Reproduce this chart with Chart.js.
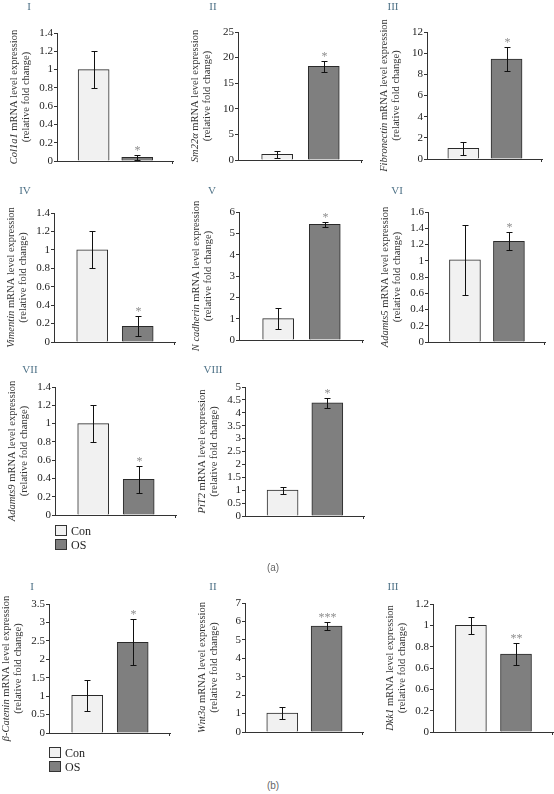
<!DOCTYPE html>
<html>
<head>
<meta charset="utf-8">
<script src="https://cdn.jsdelivr.net/npm/chart.js@4.4.1/dist/chart.umd.min.js"></script>
<style>
  body { margin: 0; background: #fff; }
  #page { position: relative; width: 554px; height: 794px; overflow: hidden; font-family: "Liberation Serif", "DejaVu Serif", serif; }
  .panel { position: absolute; }
  .num { position: absolute; color: #4f7287; font-size: 11px; transform: translate(-50%, -50%); }
  .fig { position: absolute; color: #666; font-family: "Liberation Sans", Arial, sans-serif; font-size: 10px; transform: translate(-50%, -50%); }
  .leg { position: absolute; font-size: 12px; color: #222; }
  .leg span.sw { display: inline-block; width: 10px; height: 9px; border: 1px solid #333; vertical-align: -1px; margin-right: 4px; }
  .leg div { height: 14px; line-height: 14px; }
</style>
</head>
<body>
<div id="page"></div>
<script>
// values
const groups = ['Con', 'OS'];
const genes = ['Col1a1', 'Sm22α', 'Fibronectin', 'Vimentin', 'N cadherin', 'Adamts5', 'Adamts9', 'PiT2', 'β-Catenin', 'Wnt3a', 'Dkk1'];
const numerals = ['I', 'II', 'III', 'IV', 'V', 'VI', 'VII', 'VIII', 'I', 'II', 'III'];
const conMean = [1.0, 1.1, 1.0, 1.0, 1.0, 1.01, 1.0, 1.0, 1.02, 1.03, 1.0];
const conErr = [0.2, 0.65, 0.65, 0.2, 0.5, 0.43, 0.2, 0.14, 0.43, 0.3, 0.08];
const osMean = [0.04, 18.3, 9.45, 0.17, 5.42, 1.24, 0.39, 4.39, 2.46, 5.75, 0.73];
const osErr = [0.03, 1.1, 1.15, 0.11, 0.13, 0.11, 0.15, 0.19, 0.62, 0.22, 0.1];
const marks = ['*', '*', '*', '*', '*', '*', '*', '*', '*', '***', '**'];
const yTicks = [
  ['0', '0.2', '0.4', '0.6', '0.8', '1', '1.2', '1.4'],
  ['0', '5', '10', '15', '20', '25'],
  ['0', '2', '4', '6', '8', '10', '12'],
  ['0', '0.2', '0.4', '0.6', '0.8', '1', '1.2', '1.4'],
  ['0', '1', '2', '3', '4', '5', '6'],
  ['0', '0.2', '0.4', '0.6', '0.8', '1', '1.2', '1.4', '1.6'],
  ['0', '0.2', '0.4', '0.6', '0.8', '1', '1.2', '1.4'],
  ['0', '0.5', '1', '1.5', '2', '2.5', '3', '3.5', '4', '4.5', '5'],
  ['0', '0.5', '1', '1.5', '2', '2.5', '3', '3.5'],
  ['0', '1', '2', '3', '4', '5', '6', '7'],
  ['0', '0.2', '0.6', '0.6', '0.8', '1', '1.2']
];
const yMax = [1.4, 25, 12, 1.4, 6, 1.6, 1.4, 5, 3.5, 7, 1.2];

// where each panel's axes sit on the page: y axis x, x axis end, top tick y, zero y
const layout = [
  { a: 57, e: 173, top: 33, zero: 161 },
  { a: 238, e: 362, top: 32, zero: 160 },
  { a: 427, e: 542, top: 32, zero: 159 },
  { a: 54, e: 175, top: 213, zero: 342 },
  { a: 239, e: 363, top: 212, zero: 340 },
  { a: 428, e: 545, top: 212, zero: 342 },
  { a: 55, e: 176, top: 387, zero: 515 },
  { a: 245, e: 364, top: 387, zero: 516 },
  { a: 49, e: 170, top: 604, zero: 733 },
  { a: 245, e: 363, top: 603, zero: 732 },
  { a: 433, e: 553, top: 604, zero: 732 }
];
const numPos = [[29, 6], [213, 6], [393, 6], [25, 190], [212, 190], [397, 190], [30, 369], [213, 369], [32, 586], [213, 586], [393, 586]];

const AXW = 50, PADT = 26, PADB = 26, PADR = 4;
const FONT = '"Liberation Serif", "DejaVu Serif", serif';
const conColor = '#f1f1f1', osColor = '#7f7f7f';
const page = document.getElementById('page');

const decor = {
  id: 'decor',
  afterDatasetsDraw(chart) {
    const i = chart.options.plugins.decor.panel;
    const ctx = chart.ctx;
    const ys = chart.scales.y;
    const ca = chart.chartArea;
    const meta = chart.getDatasetMeta(0);
    const means = [conMean[i], osMean[i]];
    const errs = [conErr[i], osErr[i]];
    ctx.save();
    ctx.strokeStyle = '#111';
    ctx.lineWidth = 1;
    meta.data.forEach((bar, k) => {
      const x = Math.round(bar.x) + 0.5;
      const yt = Math.round(ys.getPixelForValue(means[k] + errs[k])) + 0.5;
      const yb = Math.round(ys.getPixelForValue(Math.max(means[k] - errs[k], 0))) + 0.5;
      ctx.beginPath();
      ctx.moveTo(x, yt); ctx.lineTo(x, yb);
      ctx.moveTo(x - 3, yt); ctx.lineTo(x + 3, yt);
      ctx.moveTo(x - 3, yb); ctx.lineTo(x + 3, yb);
      ctx.stroke();
      if (k === 1) {
        ctx.fillStyle = '#8c8c8c';
        ctx.font = '12px ' + FONT;
        ctx.textAlign = 'center';
        ctx.textBaseline = 'alphabetic';
        ctx.fillText(marks[i], x, yt - 2);
      }
    });
    // small tick at the end of the x axis
    ctx.strokeStyle = '#333';
    ctx.beginPath();
    ctx.moveTo(Math.round(ca.right) - 0.5, ca.bottom);
    ctx.lineTo(Math.round(ca.right) - 0.5, ca.bottom + 3);
    ctx.stroke();

    // rotated y title, gene name in italics
    ctx.fillStyle = '#333';
    ctx.textBaseline = 'middle';
    ctx.textAlign = 'left';
    ctx.translate(ca.left - 43, (ca.top + ca.bottom) / 2);
    ctx.rotate(-Math.PI / 2);
    const it = 'italic 10.5px ' + FONT, rg = '10.5px ' + FONT;
    const rest = ' mRNA level expression';
    ctx.font = it;
    const w1 = ctx.measureText(genes[i]).width;
    ctx.font = rg;
    const w2 = ctx.measureText(rest).width;
    const x0 = -(w1 + w2) / 2;
    ctx.font = it;
    ctx.fillText(genes[i], x0, 0);
    ctx.font = rg;
    ctx.fillText(rest, x0 + w1, 0);
    ctx.textAlign = 'center';
    ctx.fillText('(relative fold change)', 0, 12);
    ctx.restore();
  }
};

function makePanel(i) {
  const p = layout[i];
  const w = p.e - p.a + AXW + PADR;
  const h = p.zero - p.top + PADT + PADB;
  const div = document.createElement('div');
  div.className = 'panel';
  div.style.left = (p.a - AXW) + 'px';
  div.style.top = (p.top - PADT) + 'px';
  div.style.width = w + 'px';
  div.style.height = h + 'px';
  const c = document.createElement('canvas');
  c.width = w; c.height = h;
  div.appendChild(c);
  page.appendChild(div);

  const labels = yTicks[i];
  const step = yMax[i] / (labels.length - 1);

  new Chart(c, {
    type: 'bar',
    data: {
      labels: groups,
      datasets: [{
        data: groups.map((g, k) => ({ x: k, y: k === 0 ? conMean[i] : osMean[i] })),
        backgroundColor: [conColor, osColor],
        borderColor: '#2a2a2a',
        borderWidth: 1,
        barThickness: 31
      }]
    },
    options: {
      responsive: false,
      animation: false,
      layout: { padding: { top: PADT, bottom: PADB, left: 0, right: PADR } },
      plugins: { legend: { display: false }, tooltip: { enabled: false }, decor: { panel: i } },
      scales: {
        x: {
          type: 'linear', min: -0.84, max: 1.82, offset: false,
          ticks: { display: false },
          grid: { display: false },
          border: { display: true, color: '#333', width: 1 },
          afterFit(s) { s.height = 0; }
        },
        y: {
          min: 0, max: yMax[i],
          afterBuildTicks(s) { s.ticks = labels.map((t, k) => ({ value: k * step })); },
          ticks: {
            autoSkip: false,
            padding: 1,
            color: '#222',
            font: { family: FONT, size: 11 },
            callback: (v, k) => labels[k]
          },
          grid: { display: true, drawOnChartArea: false, drawTicks: true, tickLength: 3, color: '#333' },
          border: { display: true, color: '#333', width: 1 },
          afterFit(s) { s.width = AXW; }
        }
      }
    },
    plugins: [decor]
  });

  const n = document.createElement('div');
  n.className = 'num';
  n.textContent = numerals[i];
  n.style.left = numPos[i][0] + 'px';
  n.style.top = numPos[i][1] + 'px';
  page.appendChild(n);
}

for (let i = 0; i < genes.length; i++) makePanel(i);

function addLegend(x, y) {
  const lg = document.createElement('div');
  lg.className = 'leg';
  lg.style.left = x + 'px';
  lg.style.top = y + 'px';
  lg.innerHTML = groups.map((g, k) =>
    '<div><span class="sw" style="background:' + (k === 0 ? conColor : osColor) + '"></span>' + g + '</div>').join('');
  page.appendChild(lg);
}
addLegend(55, 524);
addLegend(49, 746);

[['(a)', 273, 567], ['(b)', 273, 785]].forEach(([t, x, y]) => {
  const d = document.createElement('div');
  d.className = 'fig';
  d.textContent = t;
  d.style.left = x + 'px';
  d.style.top = y + 'px';
  page.appendChild(d);
});
</script>
</body>
</html>
